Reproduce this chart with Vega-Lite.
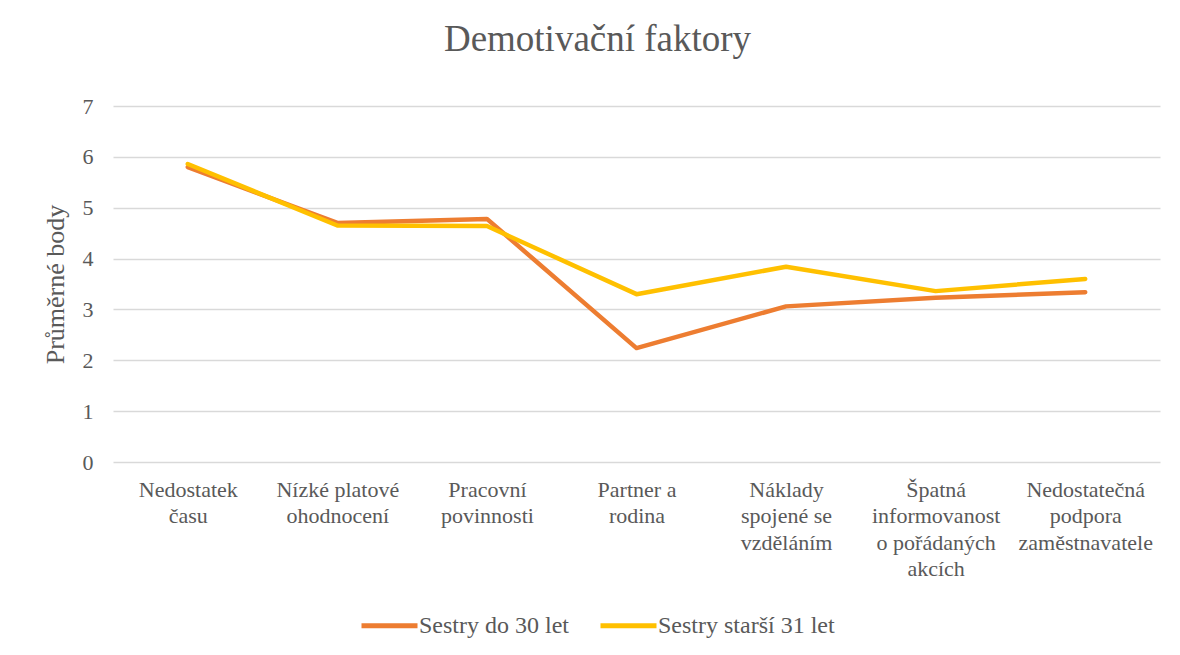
{
  "$schema": "https://vega.github.io/schema/vega-lite/v6.json",
  "autosize": "none",
  "width": 1047,
  "height": 356,
  "padding": {"left": 113, "top": 106, "right": 20, "bottom": 193},
  "background": "white",
  "title": {
    "text": "Demotivační faktory",
    "font": "Liberation Serif",
    "fontSize": 37,
    "fontWeight": "normal",
    "color": "#595959",
    "anchor": "middle",
    "dx": -39,
    "offset": 36
  },
  "data": {
    "values": [
      {"faktor": "Nedostatek času", "skupina": "Sestry do 30 let", "body": 5.80},
      {"faktor": "Nízké platové ohodnocení", "skupina": "Sestry do 30 let", "body": 4.70},
      {"faktor": "Pracovní povinnosti", "skupina": "Sestry do 30 let", "body": 4.78},
      {"faktor": "Partner a rodina", "skupina": "Sestry do 30 let", "body": 2.24},
      {"faktor": "Náklady spojené se vzděláním", "skupina": "Sestry do 30 let", "body": 3.06},
      {"faktor": "Špatná informovanost o pořádaných akcích", "skupina": "Sestry do 30 let", "body": 3.23},
      {"faktor": "Nedostatečná podpora zaměstnavatele", "skupina": "Sestry do 30 let", "body": 3.34},
      {"faktor": "Nedostatek času", "skupina": "Sestry starší 31 let", "body": 5.86},
      {"faktor": "Nízké platové ohodnocení", "skupina": "Sestry starší 31 let", "body": 4.65},
      {"faktor": "Pracovní povinnosti", "skupina": "Sestry starší 31 let", "body": 4.64},
      {"faktor": "Partner a rodina", "skupina": "Sestry starší 31 let", "body": 3.30},
      {"faktor": "Náklady spojené se vzděláním", "skupina": "Sestry starší 31 let", "body": 3.84},
      {"faktor": "Špatná informovanost o pořádaných akcích", "skupina": "Sestry starší 31 let", "body": 3.36},
      {"faktor": "Nedostatečná podpora zaměstnavatele", "skupina": "Sestry starší 31 let", "body": 3.60}
    ]
  },
  "mark": {"type": "line", "strokeWidth": 4.5, "strokeCap": "round", "strokeJoin": "round"},
  "encoding": {
    "x": {
      "field": "faktor",
      "type": "nominal",
      "sort": null,
      "scale": {"paddingOuter": 0.5},
      "axis": {
        "title": null,
        "labelAngle": 0,
        "domain": false,
        "ticks": false,
        "grid": false,
        "labelPadding": 17,
        "labelLineHeight": 26.5,
        "labelLimit": 200,
        "labelExpr": "({'Nedostatek času': ['Nedostatek', 'času'], 'Nízké platové ohodnocení': ['Nízké platové', 'ohodnocení'], 'Pracovní povinnosti': ['Pracovní', 'povinnosti'], 'Partner a rodina': ['Partner a', 'rodina'], 'Náklady spojené se vzděláním': ['Náklady', 'spojené se', 'vzděláním'], 'Špatná informovanost o pořádaných akcích': ['Špatná', 'informovanost', 'o pořádaných', 'akcích'], 'Nedostatečná podpora zaměstnavatele': ['Nedostatečná', 'podpora', 'zaměstnavatele']})[datum.value]"
      }
    },
    "y": {
      "field": "body",
      "type": "quantitative",
      "scale": {"domain": [0, 7]},
      "axis": {
        "title": "Průměrné body",
        "titleFontSize": 26,
        "titleFontWeight": "normal",
        "titleColor": "#595959",
        "titlePadding": 14,
        "values": [0, 1, 2, 3, 4, 5, 6, 7],
        "labelOverlap": false,
        "domain": false,
        "ticks": false,
        "labelPadding": 20,
        "gridColor": "#d9d9d9",
        "gridWidth": 1.5
      }
    },
    "color": {
      "field": "skupina",
      "type": "nominal",
      "scale": {"domain": ["Sestry do 30 let", "Sestry starší 31 let"], "range": ["#ED7D31", "#FFC000"]},
      "legend": {
        "title": null,
        "orient": "none",
        "legendX": 246,
        "legendY": 489,
        "direction": "horizontal",
        "symbolType": "stroke",
        "symbolSize": 3136,
        "symbolStrokeWidth": 5,
        "columnPadding": 21,
        "labelOffset": -1,
        "labelLimit": 300,
        "labelFontSize": 24
      }
    }
  },
  "config": {
    "font": "Liberation Serif",
    "view": {"stroke": null},
    "axis": {"labelFont": "Liberation Serif", "labelFontSize": 22, "labelColor": "#595959", "titleFont": "Liberation Serif"},
    "legend": {"labelFont": "Liberation Serif", "labelFontSize": 24, "labelColor": "#595959"}
  }
}
